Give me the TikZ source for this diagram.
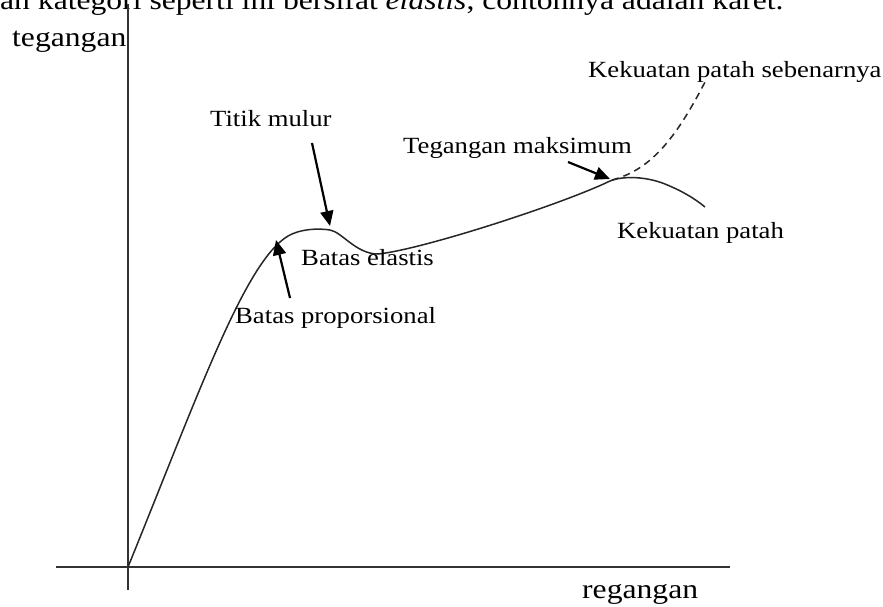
\documentclass[tikz,border=0pt]{standalone}
\usepackage{fontspec}
\setmainfont[FakeStretch=1.15]{Liberation Serif}
\usetikzlibrary{arrows.meta}
\begin{document}
\begin{tikzpicture}[x=1pt,y=-1pt,
  axis/.style={line width=1.5pt, draw=black!80},
  curve/.style={line width=1.5pt, draw=black!85},
  pointer/.style={line width=2.2pt, -{Triangle[length=15pt,width=13pt]}},
  axlabel/.style={inner sep=0pt, anchor=base west, font=\fontsize{27.5}{32}\selectfont},
  lbl/.style={inner sep=0pt, anchor=base west, font=\fontsize{23.2}{28}\selectfont}]
\useasboundingbox (0,0) rectangle (883,606);

% cut-off text line at the top
\node[axlabel] (toptext) at (0,9) {an kategori seperti ini bersifat \textit{elastis}, contohnya adalah karet.};

% axes
\coordinate (ytop) at (128,4);
\coordinate (ybot) at (128,590);
\coordinate (xleft) at (56,567);
\coordinate (xright) at (730,567);
\draw[axis] (ytop) -- (ybot);
\draw[axis] (xleft) -- (xright);

\node[axlabel] (tegangan) at (12,46) {tegangan};
\node[axlabel] (regangan) at (582,598) {regangan};

% stress-strain curve
\draw[curve] (128,567) .. controls (200,390) and (245,262) .. (288,236)
  .. controls (300,229) and (318,228) .. (330,230)
  .. controls (342,232) and (356,254) .. (378,254)
  .. controls (420,250) and (560,205) .. (610,181)
  .. controls (622,176) and (645,176) .. (665,184)
  .. controls (682,191) and (694,198) .. (705,207);

% dashed true fracture curve
\draw[curve, dash pattern=on 7pt off 5pt] (612,180)
  .. controls (650,170) and (675,140) .. (705,82);

% labels
\node[lbl] (titik) at (210,126) {Titik mulur};
\node[lbl] (tmaks) at (403,153) {Tegangan maksimum};
\node[lbl] (ksebenar) at (588,77) {Kekuatan patah sebenarnya};
\node[lbl] (kpatah) at (617,238) {Kekuatan patah};
\node[lbl] (belastis) at (301,265) {Batas elastis};
\node[lbl] (bprop) at (235,323) {Batas proporsional};

% pointer arrows
\coordinate (a1s) at (312,143);
\coordinate (a1e) at (330,226);
\coordinate (a2s) at (290,298);
\coordinate (a2e) at (276,240);
\coordinate (a3s) at (568,162);
\coordinate (a3e) at (610,179);
\draw[pointer] (a1s) -- (a1e);
\draw[pointer] (a2s) -- (a2e);
\draw[pointer] (a3s) -- (a3e);
\end{tikzpicture}
\end{document}
